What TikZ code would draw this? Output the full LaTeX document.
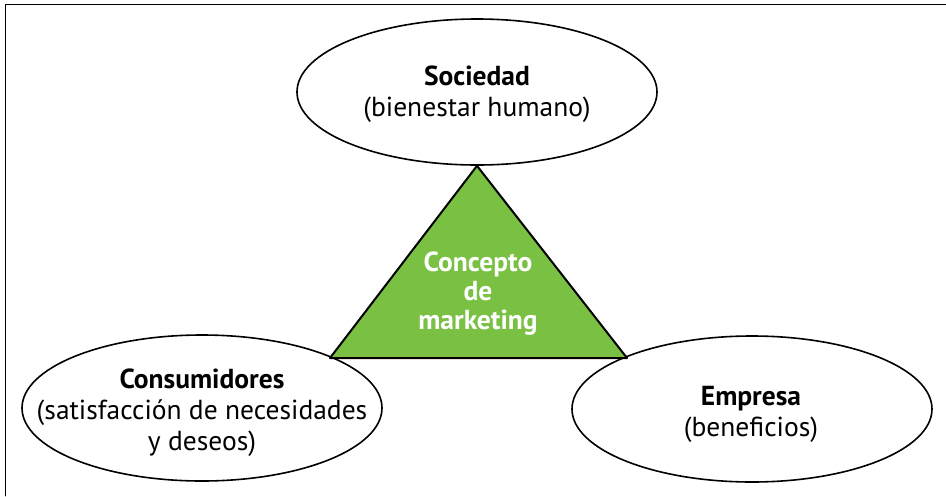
\documentclass[tikz,border=0pt]{standalone}
\usepackage{fontspec}
\setmainfont{PT Sans}
\usetikzlibrary{shapes.geometric}
\definecolor{verde}{RGB}{122,193,67}
\begin{document}
\begin{tikzpicture}[x=1pt,y=-1pt,line join=round,line cap=round,font=\fontsize{27.5}{31}\selectfont,
	elipse/.style={draw,ellipse,line width=1.6pt,minimum width=360pt,minimum height=146pt,inner sep=0pt},
	texto/.style={align=center,inner sep=0pt}]
	\useasboundingbox (0,0) rectangle (946,496);
	\draw[line width=0.8pt] (5,496)--(5,4)--(946,4);
	% elipses
	\node[elipse] (soc) at (477,92) {};
	\node[elipse] (con) at (202,408) {};
	\node[elipse] (emp) at (752,409) {};
	\node[texto] (tsoc) at (477,94) {\textbf{Sociedad}\\(bienestar humano)};
	\node[texto] (tcon) at (202,413) {\textbf{Consumidores}\\(satisfacción de necesidades\\y deseos)};
	\node[texto] (temp) at (751,414) {\textbf{Empresa}\\(beneficios)};
	% triangulo
	\coordinate (bi) at (330,358);
	\coordinate (bd) at (627,358);
	\draw[fill=verde,line width=2pt] (soc.south)--(bd)--(bi)--cycle;
	\node[texto,text=white,font=\fontsize{27.5}{29}\selectfont\bfseries] (mkt) at (478,294) {Concepto\\de\\marketing};
\end{tikzpicture}
\end{document}
